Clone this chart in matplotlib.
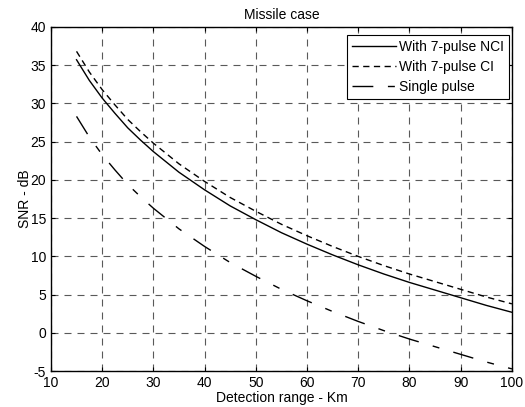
import numpy as np
import matplotlib
matplotlib.use("Agg")
import matplotlib.pyplot as plt

# Detection range (km) and SNR (dB)
range_km = [15, 17.5, 20, 22.5, 25, 27.5, 30, 35, 40, 45, 50, 55, 60, 65, 70, 75, 80, 85, 90, 95, 100]
snr_nci = [35.7, 33.0, 30.7, 28.7, 26.8, 25.2, 23.7, 21.0, 18.7, 16.6, 14.8, 13.1, 11.6, 10.2, 8.9, 7.7, 6.6, 5.6, 4.6, 3.6, 2.7]
snr_ci = [36.8, 34.1, 31.8, 29.8, 27.9, 26.3, 24.8, 22.1, 19.8, 17.7, 15.9, 14.2, 12.7, 11.3, 10.0, 8.8, 7.7, 6.7, 5.7, 4.7, 3.8]
snr_single = [28.3, 25.6, 23.3, 21.3, 19.4, 17.8, 16.3, 13.6, 11.3, 9.2, 7.4, 5.7, 4.2, 2.8, 1.5, 0.3, -0.8, -1.8, -2.8, -3.8, -4.7]

plt.rcParams["font.family"] = ["Liberation Sans", "DejaVu Sans"]
plt.rcParams["font.size"] = 10
plt.rcParams["axes.unicode_minus"] = False

fig = plt.figure(figsize=(5.25, 4.07), dpi=100)
ax = fig.add_axes([0.097, 0.088, 0.878, 0.846])

ax.plot(range_km, snr_nci, color="black", lw=1.0, label="With 7-pulse NCI")
ax.plot(range_km, snr_ci, color="black", lw=1.0, dashes=(4.5, 3.2), label="With 7-pulse CI")
ax.plot(range_km, snr_single, color="black", lw=1.0, dashes=(15, 10.5, 5, 10.5), label="Single pulse")

ax.set_xlim(10, 100)
ax.set_ylim(-5, 40)
ax.set_xticks(np.arange(10, 101, 10))
ax.set_yticks(np.arange(-5, 41, 5))
ax.grid(True, color="0.35", lw=0.8, dashes=(6.3, 5.4))
ax.tick_params(direction="in", top=True, right=True, length=3, width=0.8, colors="black", labelsize=10)
for s in ax.spines.values():
    s.set_linewidth(1.0)

ax.set_xlabel("Detection range - Km", labelpad=1)
ax.set_ylabel("SNR - dB", labelpad=-1)
ax.set_title("Missile case", fontsize=10, pad=6)

leg = ax.legend(loc="upper right", bbox_to_anchor=(0.9935, 0.977), borderaxespad=0,
                fancybox=False, framealpha=1, edgecolor="black",
                handlelength=3.2, handletextpad=0.2, borderpad=0.35, labelspacing=0.45, fontsize=10)
leg.get_frame().set_linewidth(0.8)

fig.savefig("out.png", dpi=100)
